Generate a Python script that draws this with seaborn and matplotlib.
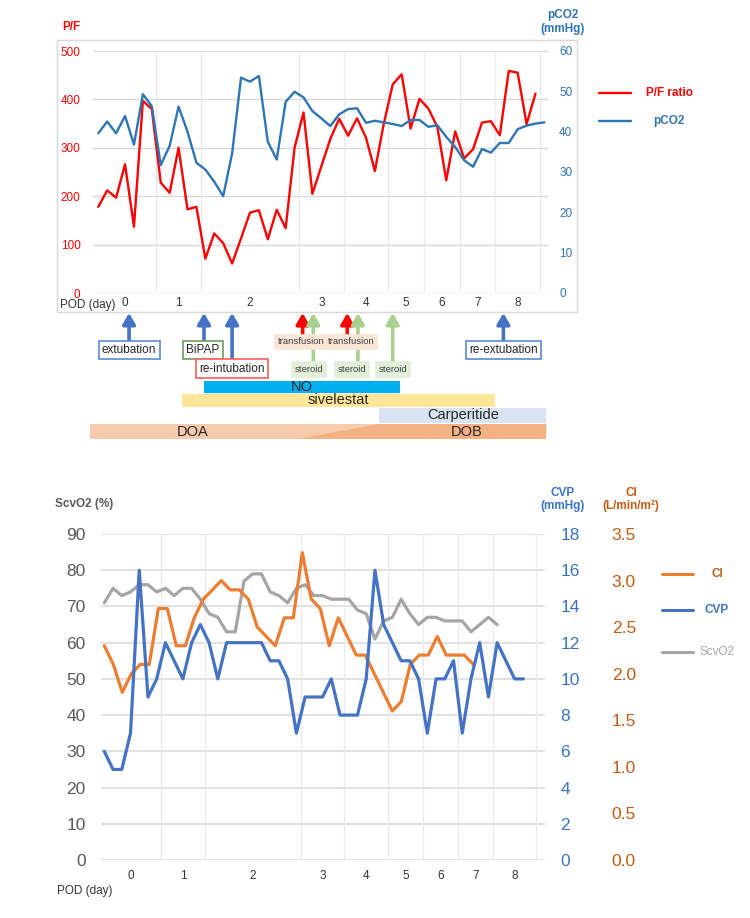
import numpy as np
import pandas as pd
import matplotlib
matplotlib.use("Agg")
import matplotlib.pyplot as plt
from matplotlib.patches import Rectangle, Polygon
from matplotlib.lines import Line2D
import seaborn as sns

# ---------------- data ----------------
day_labels = ["0", "1", "2", "3", "4", "5", "6", "7", "8"]
day_counts = [7, 5, 11, 5, 5, 4, 4, 4, 5]  # measurements per POD day

pf_ratio = [178, 212, 197, 266, 137, 397, 380, 228, 207, 300,
            173, 178, 71, 123, 103, 61, 113, 166, 171, 111,
            172, 134, 300, 373, 205, 262, 318, 360, 325, 361,
            321, 252, 350, 431, 452, 340, 401, 381, 343, 233,
            334, 278, 297, 352, 355, 326, 459, 455, 349, 412]
pco2 = [39.6, 42.5, 39.6, 43.9, 36.8, 49.3, 46.3, 31.7, 36.5, 46.2,
        40.0, 32.3, 30.6, 27.6, 24.0, 34.6, 53.4, 52.4, 53.8, 37.5,
        33.1, 47.4, 49.9, 48.5, 45.1, 43.3, 41.4, 44.3, 45.6, 45.8,
        42.2, 42.7, 42.3, 41.9, 41.4, 42.9, 42.9, 41.2, 41.6, 38.7,
        36.2, 32.9, 31.3, 35.7, 34.8, 37.2, 37.2, 40.6, 41.5, 42.0, 42.3]

scvo2 = [71, 75, 73, 74, 76, 76, 74, 75, 73, 75,
         75, 72, 68, 67, 63, 63, 77, 79, 79, 74,
         73, 71, 75, 76, 73, 73, 72, 72, 72, 69,
         68, 61, 66, 67, 72, 68, 65, 67, 67, 66,
         66, 66, 63, 65, 67, 65]
cvp = [6, 5, 5, 7, 16, 9, 10, 12, 11, 10,
       12, 13, 12, 10, 12, 12, 12, 12, 12, 11,
       11, 10, 7, 9, 9, 9, 10, 8, 8, 8,
       10, 16, 13, 12, 11, 11, 10, 7, 10, 10,
       11, 7, 10, 12, 9, 12, 11, 10, 10]
ci = [2.3, 2.1, 1.8, 2.0, 2.1, 2.1, 2.7, 2.7, 2.3, 2.3,
      2.6, 2.8, 2.9, 3.0, 2.9, 2.9, 2.8, 2.5, 2.4, 2.3,
      2.6, 2.6, 3.3, 2.8, 2.7, 2.3, 2.6, 2.4, 2.2, 2.2,
      2.0, 1.8, 1.6, 1.7, 2.1, 2.2, 2.2, 2.4, 2.2, 2.2,
      2.2, 2.1]

# clinical events (position on the measurement index axis)
event_names = ["extubation", "BiPAP", "re-intubation", "transfusion", "steroid",
               "transfusion", "steroid", "steroid", "re-extubation"]
event_pos = [3.45, 11.85, 15.0, 22.9, 24.1, 27.9, 29.1, 33.0, 45.4]
event_label_pos = [3.45, 11.75, 14.95, 22.7, 23.6, 28.3, 28.4, 33.0, 45.4]

therapy_names = ["NO", "sivelestat", "Carperitide"]
therapy_start = [11.85, 9.4, 31.5]
therapy_end = [33.8, 44.5, 50.2]
inotrope_names = ["DOA", "DOB"]
inotrope_start = -0.93
inotrope_switch = [22.3, 31.5]   # DOB begins (tapered switch)
inotrope_end = 50.2

# ---------------- style ----------------
sns.set_theme(style="white")
plt.rcParams['font.family'] = ['Liberation Sans', 'DejaVu Sans']

W, H = 750, 918
fig = plt.figure(figsize=(W / 100, H / 100), dpi=100)


def fx(px):
    return px / W


def fy(py):
    return 1 - py / H


RED = "#ff0000"
BLUE_T = "#2e75b6"
BLUE = "#4472c4"
ORANGE = "#ed7d31"
ORANGE_T = "#c55a11"
GRAY = "#a5a5a5"
GRID = "#d9d9d9"
VGRID = "#e8e8f0"

bounds = np.concatenate([[-0.5], np.cumsum(day_counts) - 0.5])
centers = (bounds[:-1] + bounds[1:]) / 2

# ================= TOP CHART =================
fig.patches.append(Rectangle((fx(57), fy(312)), (577 - 57) / W, (312 - 40) / H,
                             transform=fig.transFigure, fill=False,
                             ec="#d9d9d9", lw=1.0))

ax_pf = fig.add_axes([fx(93), fy(293), (548 - 93) / W, (293 - 51) / H])
df_top = pd.DataFrame({"idx": np.arange(len(pf_ratio)), "pf": pf_ratio})
sns.lineplot(data=df_top, x="idx", y="pf", ax=ax_pf, color=RED, linewidth=1.7)
ax_pf.set_xlim(-0.59, 50.4)
ax_pf.set_ylim(0, 500)
ax_pf.set_yticks(range(0, 501, 100))
for v in range(0, 501, 100):
    ax_pf.axhline(v, color=GRID, lw=1.0, zorder=0)
for b in bounds[1:]:
    ax_pf.axvline(b, color=VGRID, lw=0.8, zorder=0)
ax_pf.set_xticks(centers)
ax_pf.set_xticklabels(day_labels)
ax_pf.tick_params(axis='y', colors=RED, labelsize=8.5, length=0, pad=9)
ax_pf.tick_params(axis='x', colors="#333333", labelsize=8.5, length=0, pad=3)
ax_pf.set_xlabel("")
ax_pf.set_ylabel("")
for s in ax_pf.spines.values():
    s.set_visible(False)

ax_co2 = ax_pf.twinx()
df_co2 = pd.DataFrame({"idx": np.arange(len(pco2)), "pco2": pco2})
sns.lineplot(data=df_co2, x="idx", y="pco2", ax=ax_co2, color=BLUE_T, linewidth=1.7)
ax_co2.set_ylim(0, 60)
ax_co2.set_yticks(range(0, 61, 10))
ax_co2.tick_params(axis='y', colors=BLUE_T, labelsize=8.5, length=0, pad=8)
ax_co2.set_ylabel("")
ax_co2.set_xlabel("")
for s in ax_co2.spines.values():
    s.set_visible(False)

fig.text(fx(60), fy(305), "POD (day)", fontsize=8.5, color="#333333", va="center", ha="left")
fig.text(fx(71), fy(27), "P/F", fontsize=8.5, color=RED, fontweight="bold", ha="center", va="center")
fig.text(fx(563), fy(22), "pCO2\n(mmHg)", fontsize=8.5, color=BLUE_T, fontweight="bold",
         ha="center", va="center", linespacing=1.15)

# top legend
fig.add_artist(Line2D([fx(599), fx(631)], [fy(93)] * 2, color=RED, lw=1.7))
fig.text(fx(669), fy(93), "P/F ratio", fontsize=8.5, color=RED, fontweight="bold", ha="center", va="center")
fig.add_artist(Line2D([fx(599), fx(631)], [fy(121)] * 2, color=BLUE_T, lw=1.7))
fig.text(fx(669), fy(121), "pCO2", fontsize=8.5, color=BLUE_T, fontweight="bold", ha="center", va="center")

# ================= ANNOTATIONS =================
ax_ann = fig.add_axes([fx(93), fy(445), (548 - 93) / W, (445 - 312) / H])
ax_ann.set_xlim(-0.59, 50.4)
ax_ann.set_ylim(445, 312)
ax_ann.axis("off")

ev_style = {
    "extubation": dict(ac=BLUE, fc="white", ec="#5b8bd0", fs=8.5, y=350, top=342, tc="#262626"),
    "BiPAP": dict(ac=BLUE, fc="white", ec="#6f9a5e", fs=8.5, y=350, top=342, tc="#262626"),
    "re-intubation": dict(ac=BLUE, fc="white", ec="#ff5b5b", fs=8.5, y=368.5, top=361, tc="#262626"),
    "transfusion": dict(ac=RED, fc="#fbe5d6", ec="#fbe5d6", fs=6.8, y=342, top=336, tc="#404040"),
    "steroid": dict(ac="#a9d18e", fc="#e2f0d9", ec="#e2f0d9", fs=6.8, y=369.5, top=363, tc="#404040"),
    "re-extubation": dict(ac=BLUE, fc="white", ec="#5b8bd0", fs=8.5, y=350, top=342, tc="#262626"),
}
for name, xp, xl in zip(event_names, event_pos, event_label_pos):
    st = ev_style[name]
    ax_ann.annotate("", xy=(xp, 313), xytext=(xp, st["top"]),
                    arrowprops=dict(arrowstyle="-|>,head_width=0.32,head_length=0.55",
                                    color=st["ac"], lw=2.6, shrinkA=0, shrinkB=0,
                                    mutation_scale=12), annotation_clip=False)
for name, xp, xl in zip(event_names, event_pos, event_label_pos):
    st = ev_style[name]
    ax_ann.text(xl, st["y"], name, fontsize=st["fs"], color=st["tc"], ha="center", va="center",
                bbox=dict(boxstyle="square,pad=0.28", fc=st["fc"], ec=st["ec"], lw=1.2),
                clip_on=False, zorder=5)

bar_colors = ["#00b0f0", "#ffe699", "#dae3f3"]
bar_y = [381, 393.5, 408]
bar_h = [12, 13.5, 15]
for name, x0, x1, c, y0, h in zip(therapy_names, therapy_start, therapy_end, bar_colors, bar_y, bar_h):
    ax_ann.add_patch(Rectangle((x0, y0), x1 - x0, h, fc=c, ec="none", clip_on=False))
    ax_ann.text((x0 + x1) / 2, y0 + h / 2, name, fontsize=10.5, color="#262626",
                ha="center", va="center", clip_on=False)

ax_ann.add_patch(Rectangle((inotrope_start, 424), inotrope_end - inotrope_start, 15,
                           fc="#f8cbad", ec="none", clip_on=False))
ax_ann.add_patch(Polygon([(inotrope_switch[0], 439), (inotrope_switch[1], 424),
                          (inotrope_end, 424), (inotrope_end, 439)],
                         closed=True, fc="#f4b183", ec="none", clip_on=False))
ax_ann.text(10.6, 432, inotrope_names[0], fontsize=10.5, color="#262626", ha="center", va="center")
ax_ann.text(41.3, 432, inotrope_names[1], fontsize=10.5, color="#262626", ha="center", va="center")

# ================= BOTTOM CHART =================
ax_b = fig.add_axes([fx(101), fy(860), (545 - 101) / W, (860 - 534) / H])
df_s = pd.DataFrame({"idx": np.arange(len(scvo2)), "scvo2": scvo2})
sns.lineplot(data=df_s, x="idx", y="scvo2", ax=ax_b, color=GRAY, linewidth=2.3)
ax_b.set_xlim(-0.38, 50.48)
ax_b.set_ylim(0, 90)
ax_b.set_yticks(range(0, 91, 10))
for v in range(0, 91, 10):
    ax_b.axhline(v, color=GRID, lw=1.1, zorder=0)
for b in bounds[1:]:
    ax_b.axvline(b, color=VGRID, lw=0.8, zorder=0)
ax_b.set_xticks(centers)
ax_b.set_xticklabels(day_labels)
ax_b.tick_params(axis='y', colors="#595959", labelsize=12.5, length=0, pad=11)
ax_b.tick_params(axis='x', colors="#333333", labelsize=8.5, length=0, pad=7)
ax_b.set_xlabel("")
ax_b.set_ylabel("")
for s in ax_b.spines.values():
    s.set_visible(False)

ax_ci = fig.add_axes(ax_b.get_position())
df_ci = pd.DataFrame({"idx": np.arange(len(ci)), "ci": ci})
sns.lineplot(data=df_ci, x="idx", y="ci", ax=ax_ci, color=ORANGE, linewidth=2.3)
ax_ci.set_xlim(-0.367, 48.97)
ax_ci.set_ylim(0, 3.5)
ax_ci.set_yticks(np.arange(0, 3.51, 0.5))
ax_ci.set_yticklabels([f"{v:.1f}" for v in np.arange(0, 3.51, 0.5)])
ax_ci.yaxis.tick_right()
ax_ci.tick_params(axis='y', colors=ORANGE_T, labelsize=12.5, length=0, pad=48)
ax_ci.set_xticks([])
ax_ci.set_xlabel("")
ax_ci.set_ylabel("")
ax_ci.patch.set_visible(False)
for s in ax_ci.spines.values():
    s.set_visible(False)

ax_cvp = ax_b.twinx()
df_c = pd.DataFrame({"idx": np.arange(len(cvp)), "cvp": cvp})
sns.lineplot(data=df_c, x="idx", y="cvp", ax=ax_cvp, color=BLUE, linewidth=2.3)
ax_cvp.set_ylim(0, 18)
ax_cvp.set_yticks(range(0, 19, 2))
ax_cvp.tick_params(axis='y', colors="#3b74c4", labelsize=12.5, length=0, pad=11)
ax_cvp.set_xlabel("")
ax_cvp.set_ylabel("")
ax_cvp.patch.set_visible(False)
for s in ax_cvp.spines.values():
    s.set_visible(False)

ax_b.set_zorder(1)
ax_ci.set_zorder(2)
ax_cvp.set_zorder(3)

fig.text(fx(57), fy(891), "POD (day)", fontsize=8.5, color="#333333", va="center", ha="left")
fig.text(fx(55), fy(504), "ScvO2 (%)", fontsize=8.5, color="#595959", fontweight="bold",
         ha="left", va="center")
fig.text(fx(563), fy(499.5), "CVP\n(mmHg)", fontsize=8.5, color="#3b74c4", fontweight="bold",
         ha="center", va="center", linespacing=1.15)
fig.text(fx(631), fy(499.5), "CI\n(L/min/m²)", fontsize=8.5, color=ORANGE_T, fontweight="bold",
         ha="center", va="center", linespacing=1.15)

# bottom legend
for yy, col, lab, tc, fw in [(574, ORANGE, "CI", ORANGE_T, "bold"),
                             (610, BLUE, "CVP", "#3b74c4", "bold"),
                             (651.7, GRAY, "ScvO2", GRAY, "normal")]:
    fig.add_artist(Line2D([fx(662), fx(693)], [fy(yy)] * 2, color=col, lw=2.2))
    fig.text(fx(717), fy(yy), lab, fontsize=8.5, color=tc, fontweight=fw, ha="center", va="center")

fig.savefig("out.png", dpi=100)
